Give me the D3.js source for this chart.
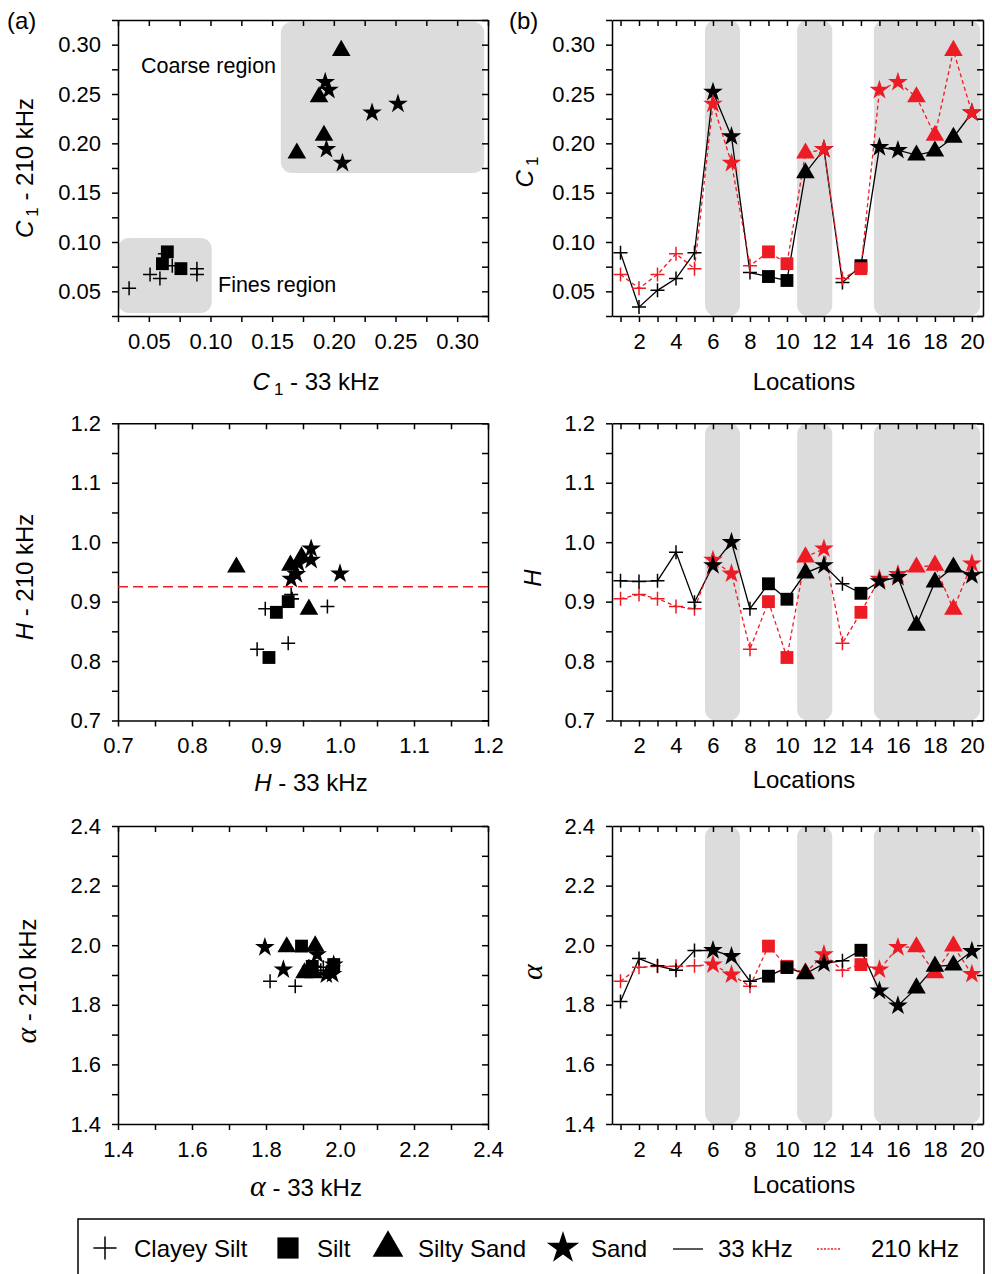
<!DOCTYPE html>
<html>
<head>
<meta charset="utf-8">
<script src="https://cdnjs.cloudflare.com/ajax/libs/d3/7.8.5/d3.min.js"></script>
<style>
body { margin: 0; background: #fff; }
svg text { font-family: "Liberation Sans", Arial, sans-serif; fill: #000; }
.tick text { font-size: 22px; }
.domain, .tick line { stroke: #000; stroke-width: 1.5px; }
.ttl { font-size: 24px; }
.greek { font-family: "Liberation Serif", "DejaVu Serif", serif; font-style: italic; font-size: 30px; }
</style>
</head>
<body>
<svg id="fig" width="992" height="1274"></svg>
<script>
// values read per location (1..20)
var locations = [1,2,3,4,5,6,7,8,9,10,11,12,13,14,15,16,17,18,19,20];
var soil = ["Clayey Silt","Clayey Silt","Clayey Silt","Clayey Silt","Clayey Silt","Sand","Sand","Clayey Silt","Silt","Silt",
            "Silty Sand","Sand","Clayey Silt","Silt","Sand","Sand","Silty Sand","Silty Sand","Silty Sand","Sand"];
var c1_33  = [0.089,0.034,0.051,0.063,0.089,0.252,0.207,0.069,0.065,0.061,0.170,0.194,0.059,0.076,0.196,0.193,0.188,0.192,0.206,0.231];
var c1_210 = [0.067,0.053,0.067,0.088,0.073,0.240,0.180,0.076,0.090,0.078,0.190,0.194,0.063,0.073,0.254,0.262,0.247,0.208,0.294,0.231];
var h_33   = [0.935,0.934,0.935,0.983,0.899,0.961,1.000,0.888,0.930,0.904,0.948,0.961,0.930,0.914,0.934,0.941,0.860,0.933,0.958,0.944];
var h_210  = [0.905,0.912,0.905,0.892,0.888,0.970,0.947,0.820,0.900,0.806,0.975,0.989,0.830,0.882,0.938,0.946,0.958,0.961,0.887,0.964];
var a_33   = [1.811,1.955,1.931,1.916,1.982,1.983,1.963,1.879,1.896,1.925,1.904,1.938,1.948,1.983,1.847,1.797,1.856,1.929,1.933,1.980];
var a_210  = [1.879,1.926,1.929,1.929,1.931,1.935,1.901,1.862,1.997,1.929,1.907,1.969,1.916,1.935,1.918,1.993,1.994,1.907,1.997,1.903];

// shaded location bands (coarse soils) and regions of panel (a)
var coarseBands = [[5.57,7.46],[10.55,12.45],[14.7,20.45]];
var coarseRegion = {x0:0.157, x1:0.322, y0:0.170, y1:0.323};
var finesRegion  = {x0:0.025, x1:0.101, y0:0.028, y1:0.104};
var hLine210 = 0.925;

// ticks
var c1Minor = [0.025,0.05,0.075,0.10,0.125,0.15,0.175,0.20,0.225,0.25,0.275,0.30,0.325];
var c1Labels = [0.05,0.10,0.15,0.20,0.25,0.30];
var hMinor = [0.70,0.75,0.80,0.85,0.90,0.95,1.00,1.05,1.10,1.15,1.20];
var hLabels = [0.7,0.8,0.9,1.0,1.1,1.2];
var aMinor = [1.4,1.5,1.6,1.7,1.8,1.9,2.0,2.1,2.2,2.3,2.4];
var aLabels = [1.4,1.6,1.8,2.0,2.2,2.4];
var locLabels = [2,4,6,8,10,12,14,16,18,20];

var legendItems = ["Clayey Silt","Silt","Silty Sand","Sand"];

var RED = "#ed1c24";
var svg = d3.select("#fig");

var leftX = [118, 488], rightX = [612, 983];
var rows = [[316, 20], [720.5, 423.3], [1124, 826]];

function has(arr, d) {
  return arr.some(function(v) { return Math.abs(v - d) < 1e-9; });
}

function frame(x, y, xMinor, xLabels, xFmt, yMinor, yLabels, yFmt) {
  var y0 = y.range()[0], y1 = y.range()[1], x0 = x.range()[0], x1 = x.range()[1];
  svg.append("g").attr("transform", "translate(0," + y0 + ")")
    .call(d3.axisBottom(x).tickValues(xMinor).tickSize(6).tickSizeOuter(0).tickPadding(11)
      .tickFormat(function(d) { return has(xLabels, d) ? xFmt(d) : ""; }));
  svg.append("g").attr("transform", "translate(0," + y1 + ")")
    .call(d3.axisBottom(x).tickValues(xMinor).tickSize(6).tickSizeOuter(0).tickFormat(""));
  svg.append("g").attr("transform", "translate(" + x0 + ",0)")
    .call(d3.axisLeft(y).tickValues(yMinor).tickSize(6).tickSizeOuter(0).tickPadding(11)
      .tickFormat(function(d) { return has(yLabels, d) ? yFmt(d) : ""; }));
  svg.append("g").attr("transform", "translate(" + x1 + ",0)")
    .call(d3.axisLeft(y).tickValues(yMinor).tickSize(6).tickSizeOuter(0).tickFormat(""));
}

var symType = {"Silt": d3.symbolSquare, "Silty Sand": d3.symbolTriangle, "Sand": d3.symbolStar};
var symSize = {"Silt": 165, "Silty Sand": 150, "Sand": 120};

function marker(g, type, cx, cy, color, k) {
  k = k || 1;
  if (type == "Clayey Silt") {
    var r = 7 * k;
    g.append("path")
      .attr("d", "M" + (-r) + ",0H" + r + "M0," + (-r) + "V" + r)
      .attr("transform", "translate(" + cx + "," + cy + ")")
      .attr("fill", "none").attr("stroke", color).attr("stroke-width", 1.5);
  } else {
    g.append("path")
      .attr("d", d3.symbol().type(symType[type]).size(symSize[type] * k * k)())
      .attr("transform", "translate(" + cx + "," + cy + ")")
      .attr("fill", color);
  }
}

function scatterPanel(row, xs, ys, minor, labels, fmt) {
  var x = d3.scaleLinear().domain([minor[0], minor[minor.length - 1]]).range(leftX);
  var y = d3.scaleLinear().domain([minor[0], minor[minor.length - 1]]).range(rows[row]);
  return {x: x, y: y, draw: function() {
    frame(x, y, minor, labels, fmt, minor, labels, fmt);
    var g = svg.append("g");
    locations.forEach(function(l, i) { marker(g, soil[i], x(xs[i]), y(ys[i]), "#000"); });
  }};
}

function seriesPanel(row, yMinor, yLabels, fmt, v33, v210, redOnTop) {
  var x = d3.scaleLinear().domain([0.54, 20.6]).range(rightX);
  var y = d3.scaleLinear().domain([yMinor[0], yMinor[yMinor.length - 1]]).range(rows[row]);
  svg.append("g").selectAll("rect").data(coarseBands).enter().append("rect")
    .attr("x", function(d) { return x(d[0]); })
    .attr("width", function(d) { return x(d[1]) - x(d[0]); })
    .attr("y", y.range()[1]).attr("height", y.range()[0] - y.range()[1])
    .attr("rx", 11).attr("fill", "#dcdcdc");
  frame(x, y, locations, locLabels, d3.format("d"), yMinor, yLabels, fmt);

  var line = d3.line().x(function(d, i) { return x(locations[i]); }).y(function(d) { return y(d); });
  svg.append("path").datum(v33).attr("d", line).attr("fill", "none")
    .attr("stroke", "#000").attr("stroke-width", 1.3);
  svg.append("path").datum(v210).attr("d", line).attr("fill", "none")
    .attr("stroke", RED).attr("stroke-width", 1.3).attr("stroke-dasharray", "4,3");
  var g = svg.append("g");
  var order = redOnTop ? [[v33, "#000"], [v210, RED]] : [[v210, RED], [v33, "#000"]];
  order.forEach(function(s) {
    locations.forEach(function(l, i) { marker(g, soil[i], x(l), y(s[0][i]), s[1]); });
  });
}

// ---- row 1 : C1
var pa = scatterPanel(0, c1_33, c1_210, c1Minor, c1Labels, d3.format(".2f"));
[coarseRegion, finesRegion].forEach(function(r) {
  svg.append("rect")
    .attr("x", pa.x(r.x0)).attr("width", pa.x(r.x1) - pa.x(r.x0))
    .attr("y", pa.y(r.y1)).attr("height", pa.y(r.y0) - pa.y(r.y1))
    .attr("rx", 11).attr("fill", "#dcdcdc");
});
pa.draw();
svg.append("text").attr("x", 141).attr("y", 73).style("font-size", "21.5px").text("Coarse region");
svg.append("text").attr("x", 218).attr("y", 292).style("font-size", "21.5px").text("Fines region");
seriesPanel(0, c1Minor, c1Labels, d3.format(".2f"), c1_33, c1_210, true);

// ---- row 2 : H
var ph = scatterPanel(1, h_33, h_210, hMinor, hLabels, d3.format(".1f"));
ph.draw();
svg.append("line")
  .attr("x1", leftX[0]).attr("x2", leftX[1])
  .attr("y1", ph.y(hLine210)).attr("y2", ph.y(hLine210))
  .attr("stroke", RED).attr("stroke-width", 1.5).attr("stroke-dasharray", "10,5");
seriesPanel(1, hMinor, hLabels, d3.format(".1f"), h_33, h_210, false);

// ---- row 3 : alpha
var pal = scatterPanel(2, a_33, a_210, aMinor, aLabels, d3.format(".1f"));
pal.draw();
seriesPanel(2, aMinor, aLabels, d3.format(".1f"), a_33, a_210, false);

// ---- panel letters
svg.append("text").attr("x", 7).attr("y", 29).style("font-size", "24px").text("(a)");
svg.append("text").attr("x", 509).attr("y", 29).style("font-size", "24px").text("(b)");

// ---- axis titles
function c1Title(t, tail) {
  t.append("tspan").style("font-style", "italic").text("C");
  t.append("tspan").attr("dx", 4).attr("dy", 5).style("font-size", "17px").text("1");
  t.append("tspan").attr("dy", -5).text(tail);
}
var t;
t = svg.append("text").attr("class", "ttl").attr("x", 316).attr("y", 390).attr("text-anchor", "middle");
c1Title(t, " - 33 kHz");
t = svg.append("text").attr("class", "ttl").attr("transform", "translate(33,168) rotate(-90)").attr("text-anchor", "middle");
c1Title(t, " - 210 kHz");
t = svg.append("text").attr("class", "ttl").attr("transform", "translate(533,172) rotate(-90)").attr("text-anchor", "middle");
c1Title(t, "");

t = svg.append("text").attr("class", "ttl").attr("x", 311).attr("y", 791).attr("text-anchor", "middle");
t.append("tspan").style("font-style", "italic").text("H");
t.append("tspan").text(" - 33 kHz");
t = svg.append("text").attr("class", "ttl").attr("transform", "translate(33,577) rotate(-90)").attr("text-anchor", "middle");
t.append("tspan").style("font-style", "italic").text("H");
t.append("tspan").text(" - 210 kHz");
svg.append("text").attr("class", "ttl").attr("transform", "translate(541,578) rotate(-90)")
  .attr("text-anchor", "middle").style("font-style", "italic").text("H");

t = svg.append("text").attr("class", "ttl").attr("x", 306).attr("y", 1196).attr("text-anchor", "middle");
t.append("tspan").attr("class", "greek").text("α");
t.append("tspan").text(" - 33 kHz");
t = svg.append("text").attr("class", "ttl").attr("transform", "translate(36,981) rotate(-90)").attr("text-anchor", "middle");
t.append("tspan").attr("class", "greek").text("α");
t.append("tspan").text(" - 210 kHz");
svg.append("text").attr("class", "greek").attr("transform", "translate(542,972) rotate(-90)")
  .attr("text-anchor", "middle").text("α");

[390, 788, 1193].forEach(function(b) {
  svg.append("text").attr("class", "ttl").attr("x", 804).attr("y", b).attr("text-anchor", "middle").text("Locations");
});

// ---- legend
var lg = svg.append("g");
lg.append("rect").attr("x", 78).attr("y", 1219).attr("width", 906).attr("height", 70)
  .attr("fill", "none").attr("stroke", "#000").attr("stroke-width", 1.5);
var legX = [105, 288, 388, 563];
var legT = [134, 317, 418, 591];
legendItems.forEach(function(name, i) {
  marker(lg, name, legX[i], 1248, "#000", 1.65);
  lg.append("text").attr("x", legT[i]).attr("y", 1257).style("font-size", "24px").text(name);
});
lg.append("line").attr("x1", 673).attr("x2", 703).attr("y1", 1249).attr("y2", 1249)
  .attr("stroke", "#000").attr("stroke-width", 1.3);
lg.append("text").attr("x", 718).attr("y", 1257).style("font-size", "24px").text("33 kHz");
lg.append("line").attr("x1", 817).attr("x2", 841).attr("y1", 1249).attr("y2", 1249)
  .attr("stroke", RED).attr("stroke-width", 1.3).attr("stroke-dasharray", "2,1.5");
lg.append("text").attr("x", 871).attr("y", 1257).style("font-size", "24px").text("210 kHz");
</script>
</body>
</html>
